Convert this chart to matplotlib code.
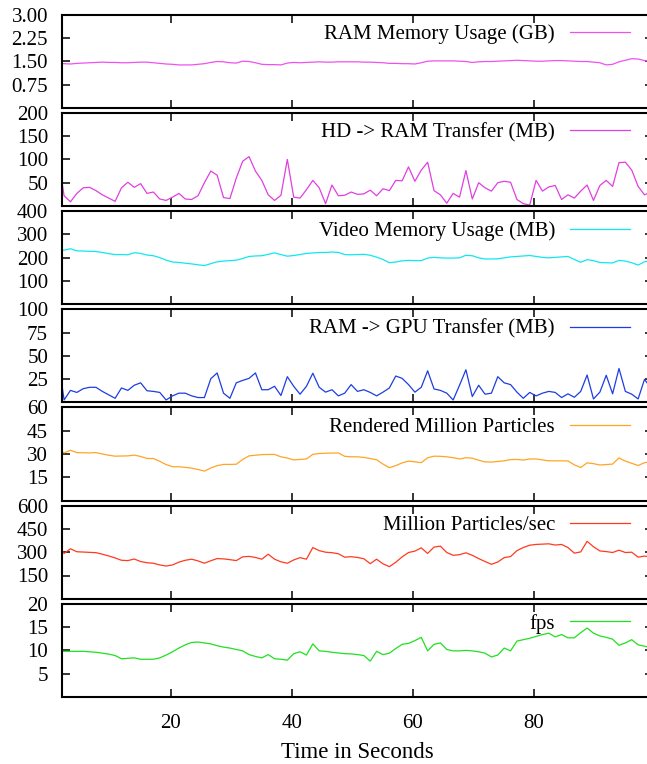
import numpy as np
import matplotlib
matplotlib.use("Agg")
import matplotlib.pyplot as plt

plt.rcParams['font.family'] = ['Liberation Serif', 'DejaVu Serif']
plt.rcParams['font.size'] = 15

# --- sample times (seconds), one sample per ~1.05 s ---
time_s = np.linspace(1.29, 99.35, 94)

# --- series values ---
ram_gb = [1.43, 1.42, 1.41, 1.43, 1.44, 1.45, 1.46, 1.47, 1.46, 1.46,
          1.45, 1.45, 1.46, 1.47, 1.47, 1.45, 1.43, 1.41, 1.40, 1.38,
          1.38, 1.38, 1.40, 1.42, 1.46, 1.49, 1.48, 1.45, 1.44, 1.50,
          1.49, 1.45, 1.40, 1.39, 1.39, 1.38, 1.44, 1.46, 1.45, 1.46,
          1.47, 1.48, 1.47, 1.47, 1.48, 1.48, 1.48, 1.48, 1.47, 1.47,
          1.46, 1.45, 1.43, 1.43, 1.42, 1.42, 1.41, 1.45, 1.50, 1.51,
          1.51, 1.51, 1.51, 1.50, 1.49, 1.46, 1.48, 1.49, 1.49, 1.50,
          1.51, 1.52, 1.53, 1.52, 1.51, 1.50, 1.50, 1.51, 1.52, 1.52,
          1.51, 1.50, 1.49, 1.49, 1.47, 1.45, 1.38, 1.40, 1.48, 1.53,
          1.58, 1.57, 1.52, 1.49]

hd_ram_mb = [110, 22,
             9, 27, 39, 40, 33, 24, 17, 10, 39, 51,
             40, 48, 27, 30, 15, 12, 19, 27, 15, 14,
             22, 50, 75, 66, 18, 16, 60, 96, 106, 75,
             55, 24, 12, 23, 100, 19, 17, 35, 55, 39,
             5, 45, 22, 23, 30,
             25, 26, 34, 22, 37, 33, 55, 54, 84, 53,
             77, 94, 33, 24, 6, 27, 19, 76, 15, 50,
             39, 32, 50, 53, 51, 14, 5, 2, 55, 32,
             41, 44, 14, 24, 17, 32, 45, 12, 44, 55,
             42, 93, 94, 77, 42, 24,
             30]

video_mb = [232, 232, 238, 229, 228, 227, 226, 222, 217, 213,
            213, 212, 221, 218, 211, 208, 200, 189, 181, 179,
            176, 173, 169, 166, 174, 182, 185, 187, 189, 196,
            205, 207, 208, 214, 220, 213, 206, 209, 213, 218,
            220, 222, 222, 224, 222, 213, 212, 213, 214, 210,
            202, 192, 178, 181, 186, 188, 187, 187, 198, 201,
            199, 198, 198, 199, 210, 208, 199, 194, 194, 195,
            199, 203, 205, 207, 209, 205, 201, 199, 201, 203,
            205, 192, 180, 191, 187, 179, 178, 177, 188, 185,
            178, 168, 182, 186]

ram_gpu_mb = [50, 2.6,
              12.9, 10.7, 14.7, 16.2, 16.2, 11.8, 8.1, 4.4, 15.5, 12.9,
              18.4, 21, 12.5, 11.8, 10.7, 2.6, 7, 9.9, 9.9, 7,
              5.2, 5.2, 25.4, 31.6, 9.9, 4.4, 21, 23.6, 25.8, 31.6,
              13.6, 13.6, 17.3, 7.4, 27.6, 17.3, 8.8, 17.3, 31.3, 16.2,
              11, 13.6, 7, 9.9, 19.1,
              11.8, 13.6, 10.7, 7, 11, 15.5, 28.3, 25.8, 19.1, 11,
              16.2, 33.9, 14.4, 12.9, 9.9, 2.6, 18.4, 35, 6.3, 18.4,
              8.8, 9.9, 27.6, 21, 19.1, 11, 4.4, 10.7, 7, 9.9,
              11.8, 10.7, 5.2, 9.2, 5.5, 11.8, 29.4, 3.7, 11, 29.1,
              9.2, 36.4, 11.8, 8.8, 3.7, 24.7,
              15.5]

particles_m = [33, 30.7, 32.4, 30.9, 30.8, 30.7, 30.9, 30.0, 29.2, 28.6,
               28.7, 28.8, 29.3, 28.4, 27.1, 27.1, 25.3, 23.2, 21.8, 21.8,
               21.4, 20.9, 20.0, 19.0, 21.0, 22.5, 23.3, 23.3, 23.4, 26.5,
               28.8, 29.2, 29.6, 29.7, 29.7, 28.2, 27.4, 26.2, 26.5, 26.8,
               29.8, 30.3, 30.5, 30.6, 30.7, 28.5, 28.2, 28.2, 27.8, 27.1,
               26.3, 23.5, 21.2, 22.5, 24.3, 25.4, 25.0, 24.4, 27.6, 28.6,
               28.5, 28.2, 27.6, 26.8, 27.6, 27.3, 26.0, 24.9, 24.8, 25.2,
               25.6, 26.4, 26.5, 26.1, 26.8, 26.8, 26.2, 25.6, 25.6, 25.6,
               25.5, 23.0, 21.3, 24.3, 23.8, 22.9, 23.2, 23.5, 27.5, 25.4,
               24.0, 22.6, 24.4, 25.0]

particles_per_sec = [350, 292, 322, 303, 301, 299, 297, 287, 276, 263,
                     248, 246, 256, 240, 232, 229, 218, 211, 218, 236,
                     248, 255, 244, 229, 245, 259, 257, 252, 246, 270,
                     273, 266, 255, 287, 255, 238, 229, 250, 265, 255,
                     330, 310, 300, 297, 290, 268, 271, 266, 258, 226,
                     255, 225, 207, 235, 270, 298, 307, 328, 292, 333,
                     339, 298, 280, 284, 296, 280, 259, 240, 222, 237,
                     265, 272, 310, 330, 345, 350, 352, 354, 346, 350,
                     330, 294, 302, 370, 335, 308, 304, 298, 313, 298,
                     300, 268, 275, 270]

fps = [9.8, 9.8, 9.8, 9.8, 9.8, 9.7, 9.6, 9.4, 9.2, 8.9,
       8.2, 8.3, 8.4, 8.1, 8.1, 8.1, 8.4, 9.0, 9.7, 10.5,
       11.2, 11.7, 11.8, 11.6, 11.4, 11.0, 10.7, 10.5, 10.2, 9.9,
       9.1, 8.7, 8.4, 9.1, 8.2, 8.1, 7.9, 9.3, 9.7, 9.0,
       11.4, 9.9, 9.8, 9.6, 9.45, 9.3, 9.25, 9.1, 8.9, 7.7,
       9.8, 9.1, 9.4, 10.4, 11.3, 11.5, 12.1, 12.8, 9.9, 11.3,
       11.6, 10.2, 9.9, 9.9, 10.0, 9.9, 9.7, 9.4, 8.6, 9.0,
       10.5, 9.9, 12.0, 12.3, 12.6, 13.0, 13.4, 13.7, 12.9, 13.4,
       12.7, 12.7, 13.8, 14.8, 13.7, 13.1, 12.8, 12.4, 11.1, 11.6,
       12.3, 11.2, 10.9, 10.6]

# (values, legend label, colour, y max, y ticks, tick format)
panels = [
    (ram_gb, 'RAM Memory Usage (GB)', '#f050f0', 3.0, [0.75, 1.5, 2.25, 3.0], '{:.2f}'),
    (hd_ram_mb, 'HD -> RAM Transfer (MB)', '#e040e0', 200, [50, 100, 150, 200], '{:.0f}'),
    (video_mb, 'Video Memory Usage (MB)', '#10e8f0', 400, [100, 200, 300, 400], '{:.0f}'),
    (ram_gpu_mb, 'RAM -> GPU Transfer (MB)', '#1c3ee0', 100, [25, 50, 75, 100], '{:.0f}'),
    (particles_m, 'Rendered Million Particles', '#ffa526', 60, [15, 30, 45, 60], '{:.0f}'),
    (particles_per_sec, 'Million Particles/sec', '#ff3a20', 600, [150, 300, 450, 600], '{:.0f}'),
    (fps, 'fps', '#20e020', 20, [5, 10, 15, 20], '{:.0f}'),
]

W, H = 647, 764
fig = plt.figure(figsize=(W / 100, H / 100), dpi=100)

for i, (vals, label, color, ymax, yticks, fmt) in enumerate(panels):
    top = 14.6 + 98.2 * i
    ax = fig.add_axes([62 / W, 1 - (top + 93.2) / H, 591 / W, 93.2 / H])
    ax.plot(time_s, vals, color=color, lw=0.9, label=label)
    ax.set_xlim(2, 99.7)
    ax.set_ylim(0, ymax)
    ax.set_yticks(yticks)
    ax.set_yticklabels([fmt.format(v) for v in yticks])
    ax.set_xticks([20, 40, 60, 80])
    ax.tick_params(direction='in', length=5.8, width=1.1, top=True, right=True)
    ax.tick_params(axis='y', pad=10)
    ax.tick_params(axis='x', pad=12)
    if i < len(panels) - 1:
        ax.tick_params(labelbottom=False)
    for s in ax.spines.values():
        s.set_linewidth(1.5)
    ax.legend(loc='center right', bbox_to_anchor=(0.961, 0.786), frameon=False,
              markerfirst=False, handlelength=2.9, handletextpad=0.7,
              borderpad=0, borderaxespad=0)

ax.set_xlabel('Time in Seconds', fontsize=16.5, labelpad=7)

fig.savefig('out.png', dpi=100)
